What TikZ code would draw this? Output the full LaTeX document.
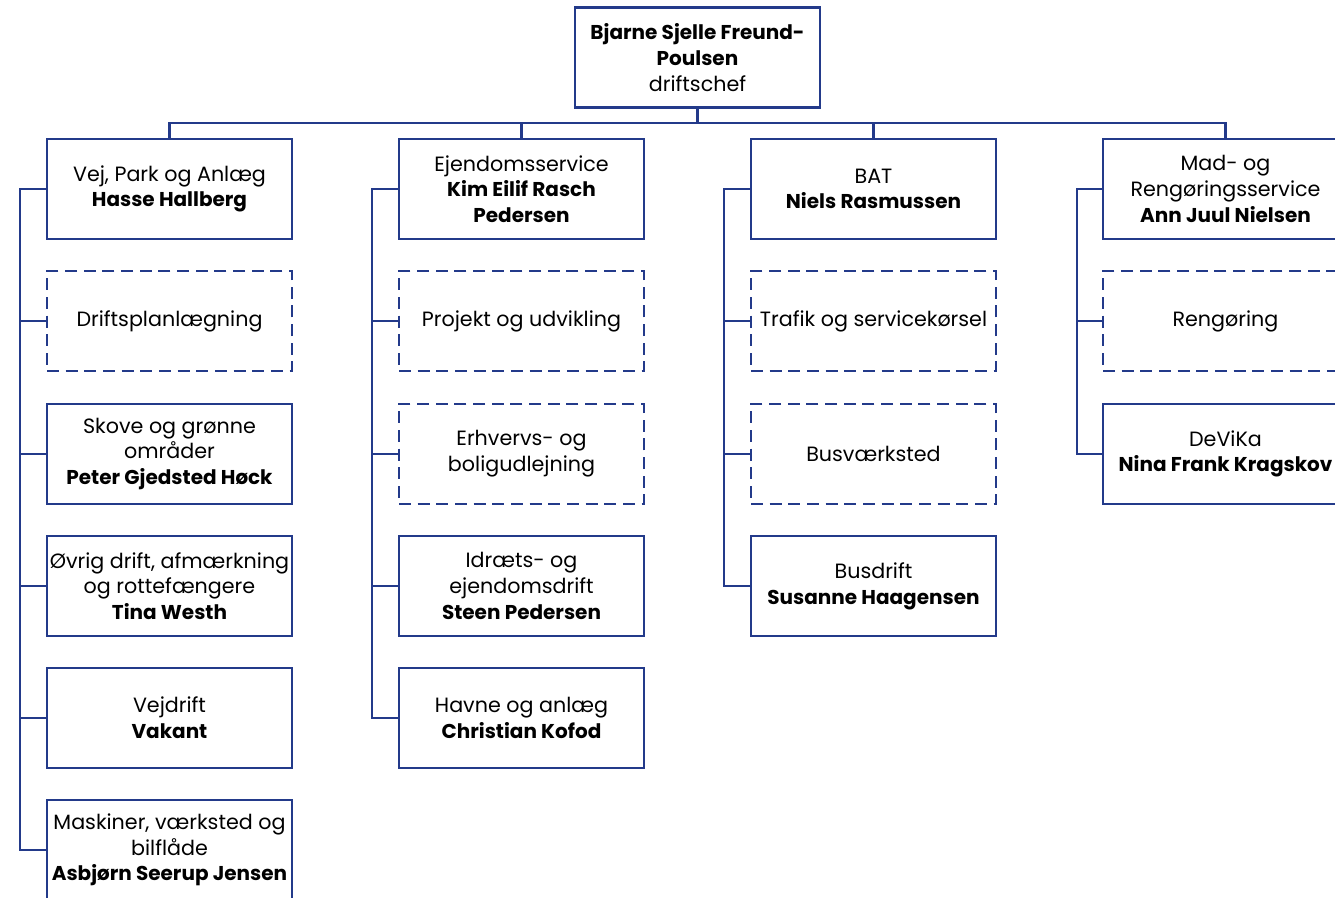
\documentclass[tikz,border=0pt]{standalone}
\usepackage{fontspec}
\setmainfont{Poppins}
\usepackage{tikz}
\usetikzlibrary{positioning}
\definecolor{orgblue}{RGB}{35,58,138}
\newcommand\nm[1]{{\fontsize{15}{19.3}\selectfont\bfseries #1}}

\begin{document}
\begin{tikzpicture}[x=0.75pt, y=-0.75pt,
    unit/.style={draw=orgblue, line width=2.1pt, fill=white, align=center,
      minimum width=183.75pt, minimum height=75pt, inner sep=1pt,
      font=\fontsize{15.5}{19.3}\selectfont},
    vacant/.style={unit, dash pattern=on 9pt off 5pt},
    link/.style={draw=orgblue, line width=2.1pt}
  ]
  \clip (0,0) rectangle (1335,897);
  \fill[white] (0,0) rectangle (1335,897);

  \node[unit] (chef) at (697.5,57.5) {\nm{Bjarne Sjelle Freund-}\\\nm{Poulsen}\\driftschef};

  % column 1
  \node[unit] (vpa) at (169.5,189) {Vej, Park og Anlæg\\\nm{Hasse Hallberg}};
  \node[vacant] (plan) at (169.5,321) {Driftsplanlægning};
  \node[unit] (skov) at (169.5,454) {Skove og grønne\\områder\\\nm{Peter Gjedsted Høck}};
  \node[unit] (oevrig) at (169.5,586) {Øvrig drift, afmærkning\\og rottefængere\\\nm{Tina Westh}};
  \node[unit] (vej) at (169.5,718) {Vejdrift\\\nm{Vakant}};
  \node[unit] (mask) at (169.5,850) {Maskiner, værksted og\\bilflåde\\\nm{Asbjørn Seerup Jensen}};

  % column 2
  \node[unit] (ejd) at (521.5,189) {Ejendomsservice\\\nm{Kim Eilif Rasch}\\\nm{Pedersen}};
  \node[vacant] (proj) at (521.5,321) {Projekt og udvikling};
  \node[vacant] (erhv) at (521.5,454) {Erhvervs- og\\boligudlejning};
  \node[unit] (idr) at (521.5,586) {Idræts- og\\ejendomsdrift\\\nm{Steen Pedersen}};
  \node[unit] (havn) at (521.5,718) {Havne og anlæg\\\nm{Christian Kofod}};

  % column 3
  \node[unit] (bat) at (873.5,189) {BAT\\\nm{Niels Rasmussen}};
  \node[vacant] (trafik) at (873.5,321) {Trafik og servicekørsel};
  \node[vacant] (busv) at (873.5,454) {Busværksted};
  \node[unit] (busd) at (873.5,586) {Busdrift\\\nm{Susanne Haagensen}};

  % column 4
  \node[unit] (mad) at (1225.5,189) {Mad- og\\Rengøringsservice\\\nm{Ann Juul Nielsen}};
  \node[vacant] (reng) at (1225.5,321) {Rengøring};
  \node[unit] (devika) at (1225.5,454) {DeViKa\\\nm{Nina Frank Kragskov}};

  % top bus
  \coordinate (bus) at (697.5,123);
  \draw[link] (chef.south) -- (bus);
  \draw[link] (vpa.north) |- (mad.north |- bus) -- (mad.north);
  \draw[link] (bus -| ejd.north) -- (ejd.north);
  \draw[link] (bus -| bat.north) -- (bat.north);

  % spines
  \coordinate (spine-1) at (20,189);
  \coordinate (spine-2) at (372,189);
  \coordinate (spine-3) at (724,189);
  \coordinate (spine-4) at (1077,189);

  \draw[link] (vpa.west) -- (spine-1) |- (mask.west);
  \draw[link] (spine-1 |- plan.west) -- (plan.west);
  \draw[link] (spine-1 |- skov.west) -- (skov.west);
  \draw[link] (spine-1 |- oevrig.west) -- (oevrig.west);
  \draw[link] (spine-1 |- vej.west) -- (vej.west);

  \draw[link] (ejd.west) -- (spine-2) |- (havn.west);
  \draw[link] (spine-2 |- proj.west) -- (proj.west);
  \draw[link] (spine-2 |- erhv.west) -- (erhv.west);
  \draw[link] (spine-2 |- idr.west) -- (idr.west);

  \draw[link] (bat.west) -- (spine-3) |- (busd.west);
  \draw[link] (spine-3 |- trafik.west) -- (trafik.west);
  \draw[link] (spine-3 |- busv.west) -- (busv.west);

  \draw[link] (mad.west) -- (spine-4) |- (devika.west);
  \draw[link] (spine-4 |- reng.west) -- (reng.west);
\end{tikzpicture}
\end{document}
